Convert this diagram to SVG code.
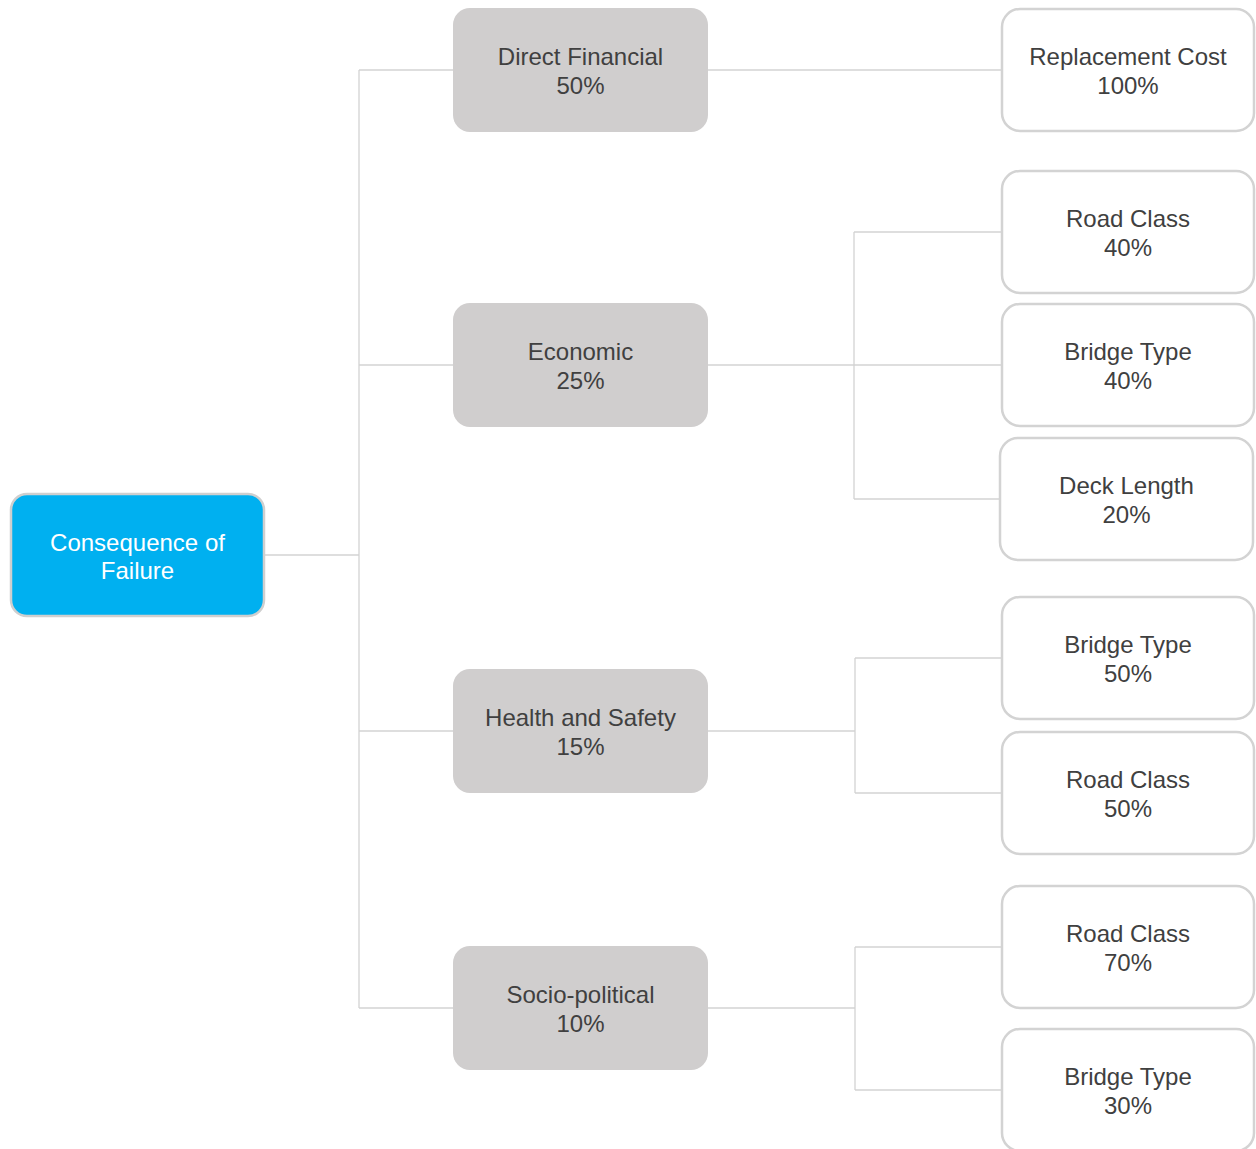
<svg xmlns="http://www.w3.org/2000/svg" width="1256" height="1149" viewBox="0 0 1256 1149">
<style>
.c{fill:none;stroke:#d3d3d3;stroke-width:1.3}
.root{fill:#00b0f0;stroke:#cfcfcf;stroke-width:2.5}
.mid{fill:#d0cece}
.leaf{fill:#ffffff;stroke:#d3d3d3;stroke-width:2.5}
text{font-family:"Liberation Sans",Arial,Helvetica,sans-serif;font-size:24px;text-anchor:middle;fill:#404040}
.w{fill:#ffffff}
</style>
<rect width="1256" height="1149" fill="#ffffff"/>
<g id="connectors">
<path class="c" d="M264 555H359M359 70V1008M359 70H453M359 365H453M359 731H453M359 1008H453"/>
<path class="c" d="M708 70H1002"/>
<path class="c" d="M708 365H854M854 232V499M854 232H1002M854 365H1002M854 499H1000"/>
<path class="c" d="M708 731H855M855 658V793M855 658H1002M855 793H1002"/>
<path class="c" d="M708 1008H855M855 947V1090M855 947H1002M855 1090H1002"/>
</g>
<g id="root">
<rect class="root" x="11" y="494" width="253" height="122" rx="16"/>
<text class="w" x="137.5" y="551">Consequence of</text>
<text class="w" x="137.5" y="579">Failure</text>
</g>
<g id="direct-financial">
<rect class="mid" x="453" y="8" width="255" height="124" rx="17"/>
<text x="580.5" y="65">Direct Financial</text>
<text x="580.5" y="94">50%</text>
</g>
<g id="economic">
<rect class="mid" x="453" y="303" width="255" height="124" rx="17"/>
<text x="580.5" y="360">Economic</text>
<text x="580.5" y="389">25%</text>
</g>
<g id="health-safety">
<rect class="mid" x="453" y="669" width="255" height="124" rx="17"/>
<text x="580.5" y="726">Health and Safety</text>
<text x="580.5" y="755">15%</text>
</g>
<g id="socio-political">
<rect class="mid" x="453" y="946" width="255" height="124" rx="17"/>
<text x="580.5" y="1003">Socio-political</text>
<text x="580.5" y="1032">10%</text>
</g>
<g id="replacement-cost">
<rect class="leaf" x="1002" y="9" width="252" height="122" rx="18"/>
<text x="1128" y="65">Replacement Cost</text>
<text x="1128" y="94">100%</text>
</g>
<g id="road-class-40">
<rect class="leaf" x="1002" y="171" width="252" height="122" rx="18"/>
<text x="1128" y="227">Road Class</text>
<text x="1128" y="256">40%</text>
</g>
<g id="bridge-type-40">
<rect class="leaf" x="1002" y="304" width="252" height="122" rx="18"/>
<text x="1128" y="360">Bridge Type</text>
<text x="1128" y="389">40%</text>
</g>
<g id="deck-length-20">
<rect class="leaf" x="1000" y="438" width="253" height="122" rx="18"/>
<text x="1126.5" y="494">Deck Length</text>
<text x="1126.5" y="523">20%</text>
</g>
<g id="bridge-type-50">
<rect class="leaf" x="1002" y="597" width="252" height="122" rx="18"/>
<text x="1128" y="653">Bridge Type</text>
<text x="1128" y="682">50%</text>
</g>
<g id="road-class-50">
<rect class="leaf" x="1002" y="732" width="252" height="122" rx="18"/>
<text x="1128" y="788">Road Class</text>
<text x="1128" y="817">50%</text>
</g>
<g id="road-class-70">
<rect class="leaf" x="1002" y="886" width="252" height="122" rx="18"/>
<text x="1128" y="942">Road Class</text>
<text x="1128" y="971">70%</text>
</g>
<g id="bridge-type-30">
<rect class="leaf" x="1002" y="1029" width="252" height="122" rx="18"/>
<text x="1128" y="1085">Bridge Type</text>
<text x="1128" y="1114">30%</text>
</g>
</svg>
